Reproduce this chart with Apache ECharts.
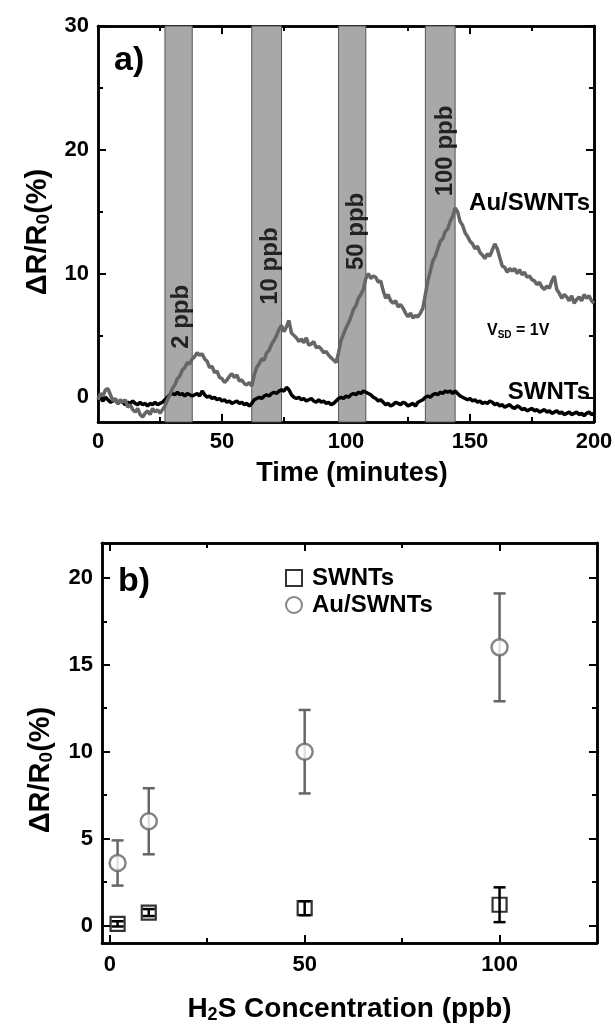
<!DOCTYPE html>
<html>
<head>
<meta charset="utf-8">
<script src="https://cdn.jsdelivr.net/npm/echarts@6/dist/echarts.min.js"></script>
<style>
  html, body { margin: 0; padding: 0; background: #fff; }
  #chart { width: 615px; height: 1028px; }
</style>
</head>
<body>
<div id="chart"></div>
<script>
// panel a: response vs time, one sample per minute (0..200)
const auTrace = [
  -0.2, 0.3, 0.1, 0.6, 0.7, 0.2, -0.3, -0.1, -0.5, -0.2,
  -0.4, -0.2, -0.8, -0.6, -1.0, -1.2, -0.9, -1.4, -1.6, -1.3,
  -1.1, -1.4, -0.9, -1.2, -1.0, -1.3, -1.0, -0.7, -0.2, 0.2,
  0.7, 1.0, 1.5, 1.7, 2.2, 2.4, 2.8, 2.7, 3.1, 3.3,
  3.6, 3.4, 3.5, 3.1, 2.9, 2.4, 2.5, 2.0, 2.1, 1.6,
  1.5, 1.2, 1.4, 1.7, 1.9, 1.6, 1.8, 1.3, 1.4, 1.1,
  1.0, 1.2, 0.9, 1.8, 2.4, 2.7, 3.1, 3.0, 3.6, 3.8,
  4.3, 4.6, 5.0, 5.5, 5.8, 5.3, 5.7, 6.2, 5.2, 5.0,
  4.8, 4.5, 4.7, 4.4, 4.8, 4.2, 4.3, 4.5, 4.0, 4.1,
  3.9, 3.6, 3.7, 3.4, 3.2, 3.0, 2.8, 3.6, 4.6, 5.1,
  5.6, 6.0, 6.5, 7.1, 7.4, 8.0, 8.3, 8.7, 9.6, 10.0,
  9.6, 9.8, 9.7, 9.3, 9.4, 8.6, 8.0, 8.3, 7.8, 7.6,
  7.8, 7.3, 7.5, 7.2, 6.8, 6.5, 6.8, 6.4, 6.6, 6.5,
  6.8, 7.2, 8.3, 9.4, 10.2, 11.0, 11.4, 12.0, 12.6, 12.8,
  13.4, 13.6, 14.2, 14.6, 15.3, 15.0, 14.2, 13.9, 13.3, 13.0,
  12.6, 12.4, 12.0, 12.2, 11.7, 11.5, 11.2, 11.6, 11.4, 11.9,
  12.4, 12.0, 11.3, 10.6, 10.5, 10.1, 10.4, 10.2, 10.4, 10.0,
  10.3, 9.9, 10.1, 9.7, 9.8, 9.5, 9.4, 9.1, 9.3, 8.9,
  8.7, 9.0, 8.8, 9.4, 9.8, 8.7, 8.4, 8.0, 8.3, 8.1,
  7.8, 8.2, 7.6, 7.9, 8.1, 7.8, 8.3, 8.0, 8.2, 7.8,
  7.6
];
const swTrace = [
  -0.2, -0.1, -0.3, 0.0, -0.2, -0.4, -0.3, -0.2, -0.5, -0.3,
  -0.4, -0.6, -0.4, -0.5, -0.3, -0.5, -0.6, -0.4, -0.6, -0.5,
  -0.7, -0.5, -0.6, -0.4, -0.6, -0.5, -0.4, -0.2, 0.0, 0.2,
  0.3, 0.2, 0.4, 0.2, 0.3, 0.1, 0.3, 0.2, 0.1, 0.2,
  0.3, 0.1, 0.5, 0.2, 0.0, 0.1, -0.1, 0.0, -0.2, -0.1,
  -0.3, -0.2, -0.4, -0.3, -0.5, -0.4, -0.3, -0.5, -0.4, -0.6,
  -0.5, -0.7, -0.5, -0.2, -0.1, 0.0, -0.1, 0.1, 0.2, 0.1,
  0.3, 0.4, 0.3, 0.5, 0.6, 0.5, 0.8, 0.6, 0.2, 0.0,
  -0.1, 0.0, -0.2, -0.1, -0.3, -0.2, -0.1, -0.3, -0.4, -0.2,
  -0.4, -0.3, -0.5, -0.4, -0.6, -0.5, -0.3, -0.1, 0.0, -0.1,
  0.1, 0.0, 0.2, 0.3, 0.2, 0.4, 0.3, 0.5, 0.4, 0.3,
  0.2, 0.0, -0.1, -0.3, -0.2, -0.4, -0.6, -0.5, -0.7, -0.6,
  -0.4, -0.5, -0.6, -0.4, -0.5, -0.7, -0.6, -0.5, -0.7, -0.4,
  -0.3, -0.2, 0.0, 0.1, 0.0, 0.2, 0.3, 0.2, 0.4, 0.3,
  0.5, 0.4, 0.5, 0.3, 0.5, 0.3, 0.1, 0.0, -0.1, -0.2,
  -0.1, -0.3, -0.2, -0.4, -0.3, -0.5, -0.4, -0.5, -0.3, -0.4,
  -0.6, -0.5, -0.7, -0.6, -0.8, -0.7, -0.6, -0.8, -0.9, -0.7,
  -0.8, -1.0, -0.9, -1.1, -1.0, -0.9, -1.1, -1.0, -1.2, -1.1,
  -1.0, -1.2, -1.1, -1.3, -1.2, -1.1, -1.3, -1.2, -1.4, -1.3,
  -1.2, -1.4, -1.3, -1.2, -1.4, -1.3, -1.5, -1.3, -1.2, -1.4,
  -1.3
];
const bandStart = [27, 62, 97, 132];
const bandEnd = [38, 74, 108, 144];
const bandLabels = ['2 ppb', '10 ppb', '50 ppb', '100 ppb'];
const bandLabelAt = [[33.5, 6.5], [69.5, 10.6], [104, 13.4], [140, 19.9]];
const timeTicks = [0, 50, 100, 150, 200];
const timeMinor = [25, 75, 125, 175];
const respTicksA = [0, 10, 20, 30];
const respMinorA = [5, 15, 25];

// panel b: response vs concentration
const conc = [2, 10, 50, 100];
const swMean = [0.1, 0.75, 1.0, 1.2];
const swLow = [-0.05, 0.55, 0.6, 0.2];
const swHigh = [0.25, 0.95, 1.4, 2.2];
const auMean = [3.6, 6.0, 10.0, 16.0];
const auLow = [2.3, 4.1, 7.6, 12.9];
const auHigh = [4.9, 7.9, 12.4, 19.1];
const concTicks = [0, 50, 100];
const concMinor = [25, 75];
const respTicksB = [0, 5, 10, 15, 20];
const respMinorB = [2.5, 7.5, 12.5, 17.5];

const FONT = '"Liberation Sans", Arial, sans-serif';
const GRAY = '#666666';

function sideAxis(grid, position, range, ticks, tickLen, extra) {
  return Object.assign({
    type: 'value',
    gridIndex: grid,
    position: position,
    min: range[0],
    max: range[1],
    axisLine: { show: true, onZero: false, lineStyle: { color: '#000', width: 2.5 } },
    axisTick: { show: true, inside: true, length: tickLen, customValues: ticks, lineStyle: { color: '#000', width: 2 } },
    axisLabel: { show: false },
    splitLine: { show: false }
  }, extra || {});
}

function labels(ticks, margin) {
  return {
    show: true, customValues: ticks, margin: margin,
    color: '#000', fontFamily: FONT, fontWeight: 'bold', fontSize: 22
  };
}

// rotated y title; right padding pushes the text down along the axis
function yNameStyle(shift) {
  return {
    color: '#000',
    padding: [0, shift * 2, 0, 0],
    rich: {
      n: { fontFamily: FONT, fontWeight: 'bold', fontSize: 29, color: '#000' },
      s: { fontFamily: FONT, fontWeight: 'bold', fontSize: 19, color: '#000', padding: [12, 0, 0, 0] }
    }
  };
}
const yName = '{n|ΔR/R}{s|0}{n|(%)}';

function errorBars(params, api, color) {
  const x = api.value(0);
  const top = api.coord([x, api.value(2)]);
  const bot = api.coord([x, api.value(1)]);
  const w = 6;
  const style = { stroke: color, lineWidth: 2.5 };
  return {
    type: 'group',
    children: [
      { type: 'line', shape: { x1: top[0], y1: top[1], x2: bot[0], y2: bot[1] }, style: style },
      { type: 'line', shape: { x1: top[0] - w, y1: top[1], x2: top[0] + w, y2: top[1] }, style: style },
      { type: 'line', shape: { x1: bot[0] - w, y1: bot[1], x2: bot[0] + w, y2: bot[1] }, style: style }
    ]
  };
}

const rangeTime = [0, 200], rangeA = [-2, 30];
const rangeConc = [-2, 125], rangeB = [-1, 22];

const chart = echarts.init(document.getElementById('chart'));
chart.setOption({
  backgroundColor: '#fff',
  animation: false,
  textStyle: { fontFamily: FONT },
  grid: [
    { left: 98, top: 26, width: 496, height: 396, outerBoundsMode: 'none' },
    { left: 102, top: 543, width: 495, height: 400, outerBoundsMode: 'none' }
  ],
  xAxis: [
    sideAxis(0, 'bottom', rangeTime, timeTicks, 8, {
      axisLabel: labels(timeTicks, 9),
      name: 'Time (minutes)', nameLocation: 'middle', nameGap: 38,
      nameTextStyle: { color: '#000', fontFamily: FONT, fontWeight: 'bold', fontSize: 27, padding: [0, 0, 0, 12] }
    }),
    sideAxis(0, 'bottom', rangeTime, timeMinor, 5),
    sideAxis(0, 'top', rangeTime, timeTicks, 8),
    sideAxis(0, 'top', rangeTime, timeMinor, 5),
    sideAxis(1, 'bottom', rangeConc, concTicks, 8, {
      axisLabel: labels(concTicks, 11),
      name: '{n|H}{s|2}{n|S Concentration (ppb)}', nameLocation: 'middle', nameGap: 51,
      nameTextStyle: {
        color: '#000',
        rich: {
          n: { fontFamily: FONT, fontWeight: 'bold', fontSize: 28, color: '#000' },
          s: { fontFamily: FONT, fontWeight: 'bold', fontSize: 18, color: '#000', padding: [12, 0, 0, 0] }
        }
      }
    }),
    sideAxis(1, 'bottom', rangeConc, concMinor, 5),
    sideAxis(1, 'top', rangeConc, concTicks, 8),
    sideAxis(1, 'top', rangeConc, concMinor, 5)
  ],
  yAxis: [
    sideAxis(0, 'left', rangeA, respTicksA, 8, {
      axisLabel: labels(respTicksA, 9),
      name: yName, nameLocation: 'middle', nameGap: 45, nameTextStyle: yNameStyle(8)
    }),
    sideAxis(0, 'left', rangeA, respMinorA, 5),
    sideAxis(0, 'right', rangeA, respTicksA, 8),
    sideAxis(0, 'right', rangeA, respMinorA, 5),
    sideAxis(1, 'left', rangeB, respTicksB, 8, {
      axisLabel: labels(respTicksB, 9),
      name: yName, nameLocation: 'middle', nameGap: 46, nameTextStyle: yNameStyle(27)
    }),
    sideAxis(1, 'left', rangeB, respMinorB, 5),
    sideAxis(1, 'right', rangeB, respTicksB, 8),
    sideAxis(1, 'right', rangeB, respMinorB, 5)
  ],
  legend: {
    data: ['SWNTs', 'Au/SWNTs'],
    orient: 'vertical',
    left: 280,
    top: 561,
    itemWidth: 16,
    itemHeight: 16,
    itemGap: 3,
    selectedMode: false,
    textStyle: { color: '#000', fontFamily: FONT, fontWeight: 'bold', fontSize: 24, padding: [0, 0, 0, 5] }
  },
  series: [
    {
      name: 'bands', type: 'line', xAxisIndex: 0, yAxisIndex: 0, data: [], z: 1,
      markArea: {
        silent: true,
        itemStyle: { color: '#a8a8a8', borderColor: '#555', borderWidth: 1 },
        data: bandStart.map((s, i) => [{ xAxis: s }, { xAxis: bandEnd[i] }])
      }
    },
    {
      name: 'SWNTs trace', type: 'line', xAxisIndex: 0, yAxisIndex: 0, z: 3,
      showSymbol: false, symbol: 'none',
      lineStyle: { color: '#000', width: 3.5 },
      data: swTrace.map((v, i) => [i, v])
    },
    {
      name: 'Au/SWNTs trace', type: 'line', xAxisIndex: 0, yAxisIndex: 0, z: 4,
      showSymbol: false, symbol: 'none',
      lineStyle: { color: GRAY, width: 3.5 },
      data: auTrace.map((v, i) => [i, v])
    },
    {
      name: 'band labels', type: 'scatter', xAxisIndex: 0, yAxisIndex: 0, z: 5,
      symbolSize: 1, itemStyle: { color: 'transparent' },
      label: {
        show: true, position: 'inside', rotate: 90,
        formatter: (p) => bandLabels[p.dataIndex],
        color: '#000', fontFamily: FONT, fontWeight: 'bold', fontSize: 24
      },
      data: bandLabelAt
    },
    {
      name: 'SWNTs err', type: 'custom', xAxisIndex: 4, yAxisIndex: 4, z: 3,
      renderItem: (p, api) => errorBars(p, api, '#000'),
      data: conc.map((c, i) => [c, swLow[i], swHigh[i]])
    },
    {
      name: 'Au/SWNTs err', type: 'custom', xAxisIndex: 4, yAxisIndex: 4, z: 3,
      renderItem: (p, api) => errorBars(p, api, GRAY),
      data: conc.map((c, i) => [c, auLow[i], auHigh[i]])
    },
    {
      name: 'SWNTs', type: 'scatter', xAxisIndex: 4, yAxisIndex: 4, z: 4,
      symbol: 'rect', symbolSize: 14,
      itemStyle: { color: 'rgba(255,255,255,0)', borderColor: '#000', borderWidth: 2.2 },
      data: conc.map((c, i) => [c, swMean[i]])
    },
    {
      name: 'Au/SWNTs', type: 'scatter', xAxisIndex: 4, yAxisIndex: 4, z: 4,
      symbol: 'circle', symbolSize: 16,
      itemStyle: { color: '#fff', borderColor: GRAY, borderWidth: 2.5 },
      data: conc.map((c, i) => [c, auMean[i]])
    }
  ],
  graphic: [
    { type: 'text', left: 114, top: 44, style: { text: 'a)', fill: '#000', font: 'bold 34px ' + FONT } },
    { type: 'text', left: 118, top: 565, style: { text: 'b)', fill: '#000', font: 'bold 34px ' + FONT } },
    { type: 'text', right: 25, top: 191, style: { text: 'Au/SWNTs', fill: '#000', font: 'bold 24px ' + FONT } },
    { type: 'text', right: 25, top: 380, style: { text: 'SWNTs', fill: '#000', font: 'bold 24px ' + FONT } },
    {
      type: 'text', left: 487, top: 323,
      style: {
        text: '{v|V}{s|SD}{v| = 1V}',
        rich: {
          v: { fill: '#000', fontFamily: FONT, fontWeight: 'bold', fontSize: 16 },
          s: { fill: '#000', fontFamily: FONT, fontWeight: 'bold', fontSize: 10, padding: [8, 0, 0, 0] }
        }
      }
    }
  ]
});
</script>
</body>
</html>
